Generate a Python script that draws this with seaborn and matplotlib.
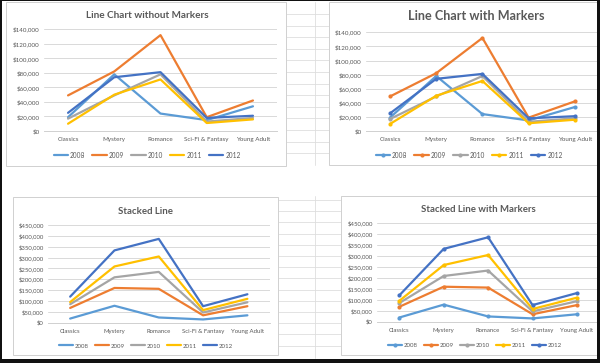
import matplotlib
matplotlib.use("Agg")
import matplotlib.pyplot as plt
import seaborn as sns
import pandas as pd
from matplotlib.patches import Rectangle
from matplotlib.lines import Line2D

categories = ["Classics", "Mystery", "Romance", "Sci-Fi & Fantasy", "Young Adult"]
years = ["2008", "2009", "2010", "2011", "2012"]
sales_2008 = [19000, 78000, 24000, 15000, 34000]
sales_2009 = [49000, 82000, 132000, 19000, 42000]
sales_2010 = [17000, 49000, 78000, 13000, 18000]
sales_2011 = [10000, 50000, 71000, 11000, 16000]
sales_2012 = [25000, 74000, 81000, 18000, 21000]
top_ticks = [0, 20000, 40000, 60000, 80000, 100000, 120000, 140000]
bottom_ticks = [0, 50000, 100000, 150000, 200000, 250000, 300000, 350000, 400000, 450000]
titles = ["Line Chart without Markers", "Line Chart with Markers",
          "Stacked Line", "Stacked Line with Markers"]
palette = ["#5B9BD5", "#ED7D31", "#A5A5A5", "#FFC000", "#4472C4"]

sns.set_theme(style="white")
plt.rcParams['font.family'] = ['Lato', 'DejaVu Sans']

W, H = 600, 363
fig = plt.figure(figsize=(6, 3.63), dpi=100)
fig.patch.set_facecolor("white")

def fx(px):
    return px / W

def fy(py):
    return 1 - py / H

wide = pd.DataFrame({"2008": sales_2008, "2009": sales_2009, "2010": sales_2010,
                     "2011": sales_2011, "2012": sales_2012}, index=categories)
stacked = wide.cumsum(axis=1)

def long(df):
    d = df.reset_index().rename(columns={"index": "category"})
    return d.melt(id_vars="category", var_name="year", value_name="value")

# --- spreadsheet background grid ---
gridc = "#dedede"
def bgline(xs, ys):
    fig.add_artist(Line2D(xs, ys, color=gridc, lw=0.6, zorder=-10))

for k in range(13):
    y = 14 + 11.6 * k
    bgline([fx(286), fx(329)], [fy(y), fy(y)])
for k in range(14):
    y = 200 + 11.2 * k
    bgline([fx(278), fx(341)], [fy(y), fy(y)])
for x in [285, 315]:
    bgline([fx(x), fx(x)], [fy(2), fy(165)])
bgline([fx(315), fx(315)], [fy(196), fy(358)])

panes = [(6, 2, 286, 166), (329, 2, 600, 165), (13, 197, 278, 355), (341, 196, 600, 355)]
for (x0, y0, x1, y1) in panes:
    fig.add_artist(Rectangle((fx(x0), fy(y1)), fx(x1 - x0), (y1 - y0) / H,
                             facecolor="white", edgecolor="#d0d0d0", lw=0.7,
                             transform=fig.transFigure, zorder=-5))

ax_specs = [
    dict(rect=(44, 29.3, 277, 131), xlim=(-0.52, 4.52), ticks=top_ticks, df=wide, markers=False,
         title=(147, 15, 7.2), legend=(147, 155), ysz=4.5, xsz=4.5, lsz=4.7),
    dict(rect=(366, 32.3, 597, 131), xlim=(-0.52, 4.48), ticks=top_ticks, df=wide, markers=True,
         title=(476, 16, 9.1), legend=(469, 155), ysz=4.5, xsz=4.5, lsz=4.7),
    dict(rect=(48, 225, 270, 322.7), xlim=(-0.5, 4.51), ticks=bottom_ticks, df=stacked, markers=False,
         title=(145, 211, 6.9), legend=(146, 346), ysz=4.3, xsz=4.3, lsz=4.4),
    dict(rect=(377, 223.3, 597, 321.7), xlim=(-0.5, 4.45), ticks=bottom_ticks, df=stacked, markers=True,
         title=(478, 209, 6.9), legend=(475, 345), ysz=4.3, xsz=4.3, lsz=4.4),
]

txtc = "#595959"
for spec, title in zip(ax_specs, titles):
    l, t, r, b = spec["rect"]
    ax = fig.add_axes([fx(l), fy(b), (r - l) / W, (b - t) / H])
    ax.set_facecolor("none")
    data = long(spec["df"])
    kw = dict(marker="o", markersize=3.0, markeredgewidth=0) if spec["markers"] else {}
    sns.lineplot(data=data, x="category", y="value", hue="year", hue_order=years,
                 palette=palette, linewidth=1.6, legend=False, ax=ax, sort=False, **kw)
    ax.set_xlim(*spec["xlim"])
    ax.set_ylim(0, spec["ticks"][-1])
    ax.set_yticks(spec["ticks"])
    ax.set_yticklabels(["${:,.0f}".format(v) for v in spec["ticks"]])
    ax.set_xticks(range(len(categories)))
    ax.set_xticklabels(categories)
    ax.set_xlabel("")
    ax.set_ylabel("")
    ax.tick_params(axis="both", length=0, colors=txtc)
    ax.tick_params(axis="y", pad=3, labelsize=spec["ysz"])
    ax.tick_params(axis="x", pad=4.5, labelsize=spec["xsz"])
    ax.grid(axis="y", color="#d9d9d9", lw=0.7)
    ax.set_axisbelow(True)
    for s in ["top", "right", "left"]:
        ax.spines[s].set_visible(False)
    ax.spines["bottom"].set_color("#d0d0d0")
    ax.spines["bottom"].set_linewidth(0.7)
    tx, ty, ts = spec["title"]
    fig.text(fx(tx), fy(ty), title, ha="center", va="center", fontsize=ts,
             fontweight="bold", color=txtc)
    lx, ly = spec["legend"]
    handles = ax.get_lines()[:5]
    ax.legend(handles, years, loc="center", bbox_to_anchor=(fx(lx), fy(ly)),
              bbox_transform=fig.transFigure, ncol=5, frameon=False, fontsize=spec["lsz"],
              handlelength=2.2, handletextpad=0.3, columnspacing=1.1,
              labelcolor=txtc)

for (x0, y0, x1, y1) in [(0, 0, 2.2, 363), (597, 0, 600, 363), (0, 359, 600, 363), (0, 0, 600, 1)]:
    fig.add_artist(Rectangle((fx(x0), fy(y1)), fx(x1 - x0), (y1 - y0) / H,
                             facecolor="#111111", edgecolor="none",
                             transform=fig.transFigure, zorder=10))

fig.savefig("out.png", dpi=100)
